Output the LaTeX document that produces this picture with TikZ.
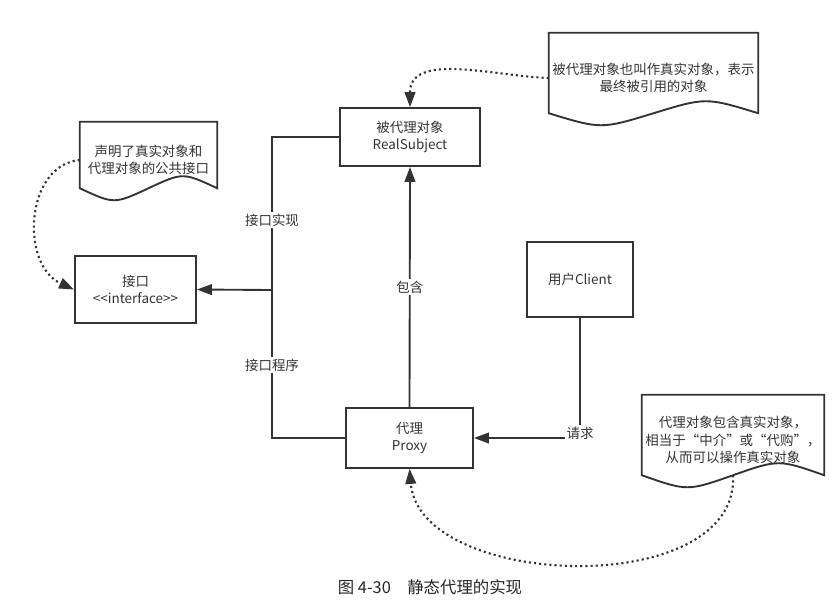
\documentclass[tikz,border=0pt]{standalone}
\usepackage{fontspec}
\setmainfont{Noto Sans CJK SC}
\usetikzlibrary{arrows.meta,calc}

\definecolor{inkgray}{HTML}{333333}

% note shape: box with a wavy lower edge
\newcommand{\docnote}[1]{%
  \draw[line] (#1.north west) -- (#1.north east) -- ($(#1.south east)+(0,-10)$)
    .. controls ($(#1.south)!0.5!(#1.south east)+(0,-26)$) .. ($(#1.south)+(0,-10)$)
    .. controls ($(#1.south)!0.5!(#1.south west)+(0,6)$) .. ($(#1.south west)+(0,-10)$) -- cycle;}

\begin{document}
\begin{tikzpicture}[x=0.03cm, y=-0.03cm,
    box/.style={draw=inkgray, line width=1.6pt, text=inkgray, align=center, font=\fontsize{11.5}{14.5}\selectfont},
    note/.style={inner xsep=1pt, text=inkgray, align=center, font=\fontsize{11.5}{15}\selectfont},
    line/.style={draw=inkgray, line width=1.6pt, line join=miter},
    arrow/.style={line, -{Triangle[length=4.5mm,width=3.2mm]}},
    hint/.style={draw=inkgray, line width=1.8pt, dash pattern=on 1.8pt off 2.6pt, -{Triangle[length=4.5mm,width=3.2mm]}},
    lbl/.style={fill=white, text=inkgray, inner sep=1.5pt, font=\fontsize{11.5}{14.5}\selectfont}
]
\useasboundingbox (0,0) rectangle (836,606);

% Main boxes
\node[box, minimum width=4.2cm, minimum height=1.74cm] (real) at (410,137) {被代理对象\\RealSubject};
\node[box, minimum width=3.81cm, minimum height=1.8cm] (proxy) at (409.5,438) {代理\\Proxy};
\node[box, minimum width=3.63cm, minimum height=2.01cm] (iface) at (135.5,289.5) {接口\\<\kern0pt<interface>\kern0pt>};
\node[box, minimum width=3.18cm, minimum height=2.25cm] (client) at (580,279.5) {用户Client};

% Notes
\node[note, minimum width=6.27cm, minimum height=2.7cm] (note1) at (653.5,78) {被代理对象也叫作真实对象，表示\\最终被引用的对象};
\node[note, minimum width=4.11cm, minimum height=2.28cm] (note2) at (148.5,160) {声明了真实对象和\\代理对象的公共接口};
\node[note, minimum width=5.46cm, minimum height=2.7cm] (note3) at (733,440) {代理对象包含真实对象，\\相当于“中介”或“代购”，\\从而可以操作真实对象};
\docnote{note1}
\docnote{note2}
\docnote{note3}

% Interface lines
\coordinate (bus) at (272,290);
\draw[line] (real.west) -| (bus) |- (proxy.west);
\draw[arrow] (bus) -- (iface.east);
\node[lbl] (implnote) at (272,220) {接口实现};
\node[lbl] (prognote) at (272,365) {接口程序};

% Proxy holds the real subject
\draw[arrow] (proxy.north) -- (real.south) node[lbl, midway] (holds) {包含};

% Client request
\draw[arrow] (client.south) |- (proxy.east) node[lbl, pos=0.5, yshift=4pt] (request) {请求};

% Dotted hints
\draw[hint] (note1.west) to[out=178, in=90] (real.north);
\draw[hint] (note2.west) .. controls (25,165) and (20,265) .. (iface.west);
\coordinate (note3wave) at ($(note3.south)+(0,-10)$);
\draw[hint] (note3wave) .. controls (740,600) and (420,590) .. (proxy.south);

% Caption
\node[font=\fontsize{14}{16}\selectfont, text=black!85] (caption) at (430,587) {图 4-30\quad 静态代理的实现};

\end{tikzpicture}
\end{document}
